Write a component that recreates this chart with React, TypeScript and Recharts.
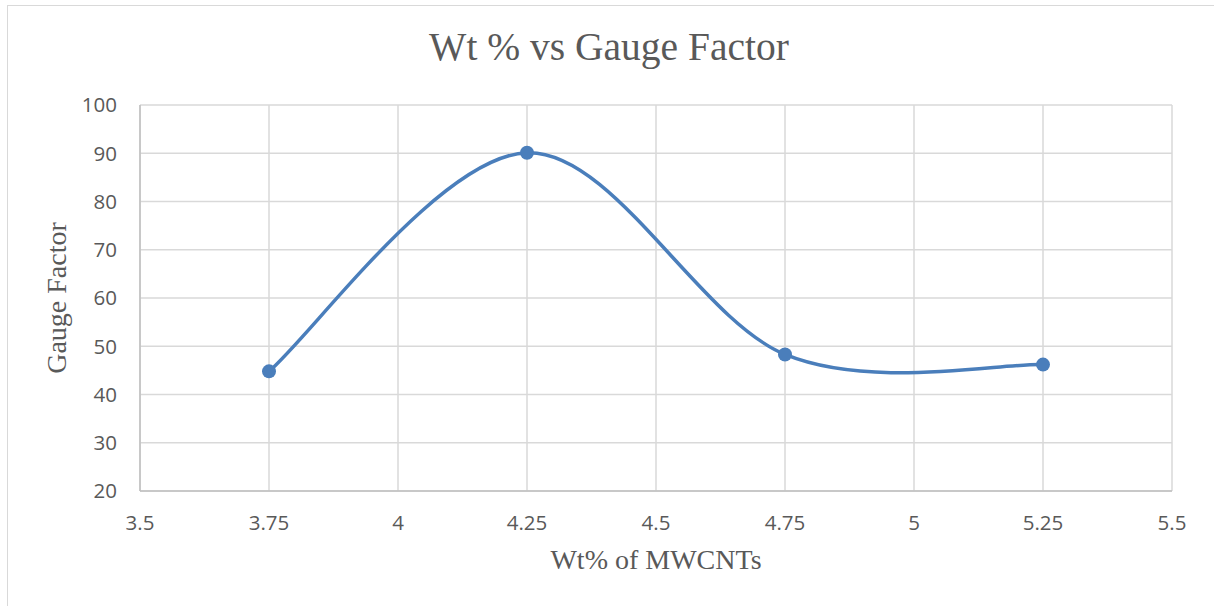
import { LineChart, Line, XAxis, YAxis, CartesianGrid, Label } from "recharts";

const wtPercent = [3.75, 4.25, 4.75, 5.25];
const gaugeFactor = [44.8, 90.1, 48.3, 46.2];
const xTicks = [3.5, 3.75, 4, 4.25, 4.5, 4.75, 5, 5.25, 5.5];
const yTicks = [20, 30, 40, 50, 60, 70, 80, 90, 100];

const data = wtPercent.map((wt, i) => ({ wt, gf: gaugeFactor[i] }));

// Excel-style smoothed line (Catmull-Rom with end points repeated)
const excelSmooth = (context: any) => {
  let pts: number[][] = [];
  return {
    areaStart() {},
    areaEnd() {},
    lineStart() {
      pts = [];
    },
    point(x: number, y: number) {
      pts.push([+x, +y]);
    },
    lineEnd() {
      if (!pts.length) return;
      context.moveTo(pts[0][0], pts[0][1]);
      for (let i = 0; i < pts.length - 1; i++) {
        const p0 = pts[i - 1] || pts[i];
        const p1 = pts[i];
        const p2 = pts[i + 1];
        const p3 = pts[i + 2] || pts[i + 1];
        context.bezierCurveTo(
          p1[0] + (p2[0] - p0[0]) / 6,
          p1[1] + (p2[1] - p0[1]) / 6,
          p2[0] - (p3[0] - p1[0]) / 6,
          p2[1] - (p3[1] - p1[1]) / 6,
          p2[0],
          p2[1]
        );
      }
    },
  };
};

const serif = "'Liberation Serif', serif";
const tickStyle = { fill: "#595959", fontSize: 20.5, fontFamily: "'Open Sans', sans-serif" };

export default function App() {
  return (
    <div
      style={{
        position: "absolute",
        left: 0,
        top: 0,
        width: 1214,
        height: 606,
        overflow: "hidden",
        background: "#fff",
      }}
    >
      <div
        style={{
          position: "absolute",
          left: 7,
          top: 5,
          width: 1300,
          height: 700,
          borderLeft: "1.5px solid #d9d9d9",
          borderTop: "1.5px solid #d9d9d9",
        }}
      />
      <div
        style={{
          position: "absolute",
          left: 0,
          top: 24,
          width: 1218,
          textAlign: "center",
          fontFamily: serif,
          fontSize: 39.5,
          color: "#595959",
        }}
      >
        Wt % vs Gauge Factor
      </div>
      <div style={{ position: "absolute", left: 0, top: 0 }}>
        <LineChart
          width={1214}
          height={606}
          data={data}
          margin={{ top: 105, right: 42, bottom: 45, left: 80 }}
        >
          <CartesianGrid stroke="#d9d9d9" strokeWidth={1.5} />
          <XAxis
            dataKey="wt"
            type="number"
            domain={[3.5, 5.5]}
            ticks={xTicks}
            height={70}
            tickSize={0}
            tickMargin={24}
            tick={tickStyle}
            axisLine={{ stroke: "#bfbfbf", strokeWidth: 1.5 }}
          >
            <Label
              value="Wt% of MWCNTs"
              position="insideBottom"
              offset={-8}
              style={{ fill: "#595959", fontSize: 28, fontFamily: serif }}
            />
          </XAxis>
          <YAxis
            type="number"
            domain={[20, 100]}
            ticks={yTicks}
            width={60}
            tickSize={0}
            tickMargin={23}
            tick={tickStyle}
            axisLine={{ stroke: "#bfbfbf", strokeWidth: 1.5 }}
          >
            <Label
              value="Gauge Factor"
              angle={-90}
              position="insideLeft"
              offset={-24}
              style={{ fill: "#595959", fontSize: 28, fontFamily: serif, textAnchor: "middle" }}
            />
          </YAxis>
          <Line
            dataKey="gf"
            type={excelSmooth as any}
            stroke="#4a7ebb"
            strokeWidth={3.5}
            dot={{ r: 7, fill: "#4a7ebb", stroke: "none" }}
            isAnimationActive={false}
          />
        </LineChart>
      </div>
    </div>
  );
}
